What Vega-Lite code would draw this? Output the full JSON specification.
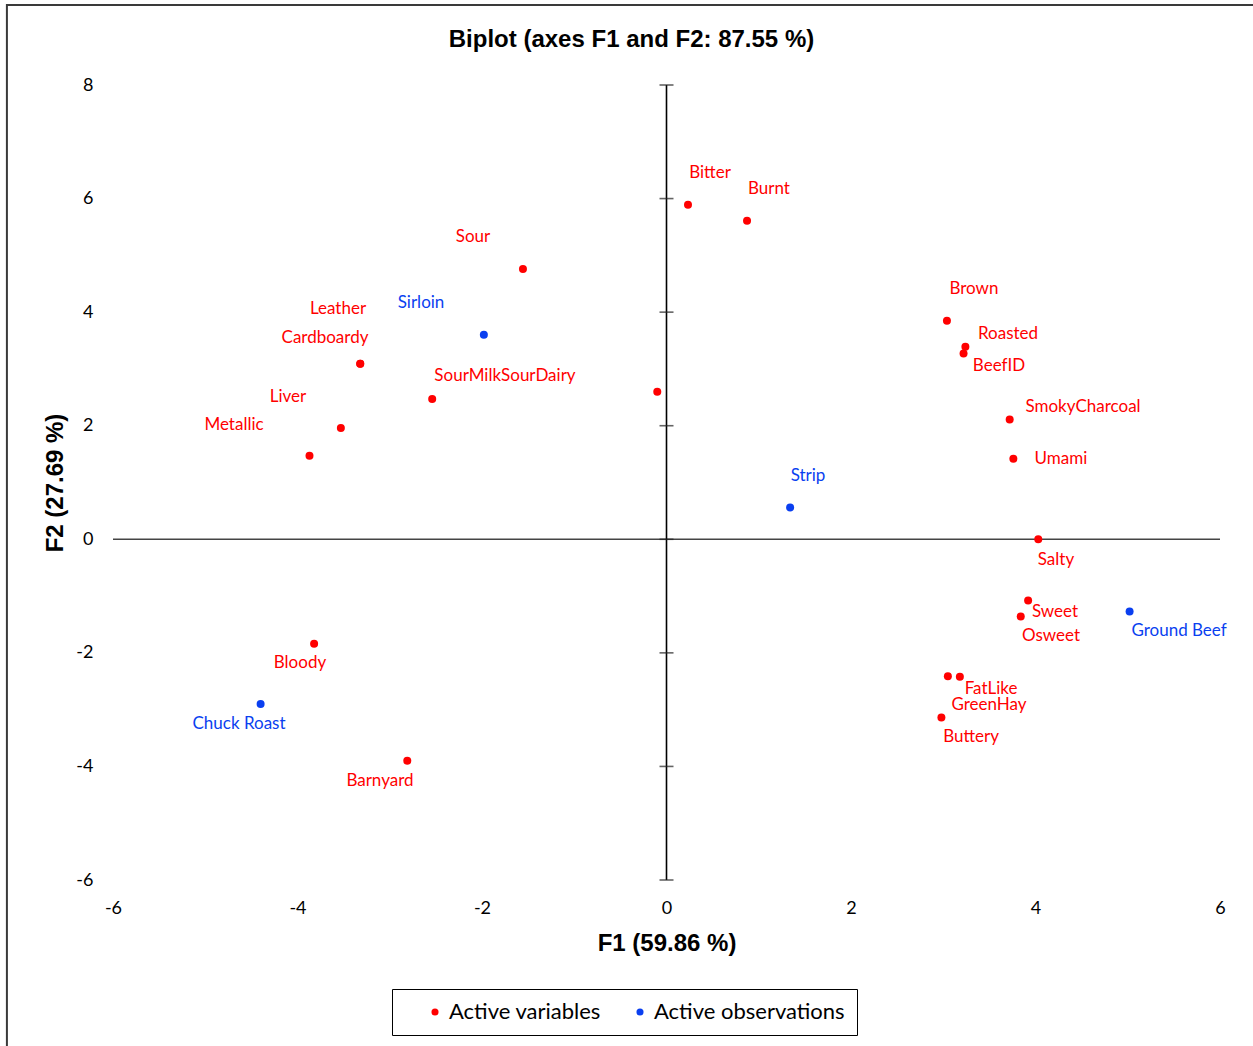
{
  "$schema": "https://vega.github.io/schema/vega-lite/v6.json",
  "width": 1107,
  "height": 795,
  "autosize": {"type": "none"},
  "padding": {"left": 113, "top": 85, "right": 33, "bottom": 166},
  "background": "white",
  "config": {"view": {"stroke": null}, "font": "Lato"},
  "title": {"text": "Biplot (axes F1 and F2: 87.55 %)", "font": "Liberation Sans", "fontSize": 24, "fontWeight": "bold", "color": "black", "offset": 0, "dx": -35, "dy": 48, "anchor": "middle"},
  "datasets": {
    "pts": [
      {"name": "Bitter", "fx": 0.233, "fy": 5.89, "lx": 0.472, "ly": 6.45, "group": "Active variables"},
      {"name": "Burnt", "fx": 0.873, "fy": 5.61, "lx": 1.111, "ly": 6.17, "group": "Active variables"},
      {"name": "Sour", "fx": -1.556, "fy": 4.76, "lx": -2.098, "ly": 5.32, "group": "Active variables"},
      {"name": "Leather", "fx": -3.32, "fy": 3.09, "lx": -3.561, "ly": 4.06, "group": "Active variables"},
      {"name": "Cardboardy", "fx": -3.32, "fy": 3.09, "lx": -3.702, "ly": 3.55, "group": "Active variables"},
      {"name": "SourMilkSourDairy", "fx": -2.54, "fy": 2.47, "lx": -1.751, "ly": 2.88, "group": "Active variables"},
      {"name": "", "fx": -0.10, "fy": 2.60, "lx": null, "ly": null, "group": "Active variables"},
      {"name": "Liver", "fx": -3.53, "fy": 1.96, "lx": -4.103, "ly": 2.51, "group": "Active variables"},
      {"name": "Metallic", "fx": -3.87, "fy": 1.47, "lx": -4.688, "ly": 2.02, "group": "Active variables"},
      {"name": "Brown", "fx": 3.04, "fy": 3.85, "lx": 3.333, "ly": 4.40, "group": "Active variables"},
      {"name": "Roasted", "fx": 3.24, "fy": 3.39, "lx": 3.702, "ly": 3.62, "group": "Active variables"},
      {"name": "BeefID", "fx": 3.22, "fy": 3.27, "lx": 3.604, "ly": 3.06, "group": "Active variables"},
      {"name": "SmokyCharcoal", "fx": 3.72, "fy": 2.11, "lx": 4.515, "ly": 2.33, "group": "Active variables"},
      {"name": "Umami", "fx": 3.76, "fy": 1.42, "lx": 4.276, "ly": 1.42, "group": "Active variables"},
      {"name": "Salty", "fx": 4.03, "fy": 0.0, "lx": 4.222, "ly": -0.36, "group": "Active variables"},
      {"name": "Sweet", "fx": 3.92, "fy": -1.08, "lx": 4.211, "ly": -1.28, "group": "Active variables"},
      {"name": "Osweet", "fx": 3.84, "fy": -1.36, "lx": 4.168, "ly": -1.70, "group": "Active variables"},
      {"name": "FatLike", "fx": 3.18, "fy": -2.42, "lx": 3.518, "ly": -2.63, "group": "Active variables"},
      {"name": "GreenHay", "fx": 3.05, "fy": -2.41, "lx": 3.496, "ly": -2.91, "group": "Active variables"},
      {"name": "Buttery", "fx": 2.98, "fy": -3.14, "lx": 3.301, "ly": -3.49, "group": "Active variables"},
      {"name": "Bloody", "fx": -3.82, "fy": -1.84, "lx": -3.973, "ly": -2.17, "group": "Active variables"},
      {"name": "Barnyard", "fx": -2.81, "fy": -3.90, "lx": -3.106, "ly": -4.25, "group": "Active variables"},
      {"name": "Sirloin", "fx": -1.98, "fy": 3.60, "lx": -2.661, "ly": 4.16, "group": "Active observations"},
      {"name": "Strip", "fx": 1.34, "fy": 0.56, "lx": 1.534, "ly": 1.12, "group": "Active observations"},
      {"name": "Ground Beef", "fx": 5.02, "fy": -1.27, "lx": 5.556, "ly": -1.61, "group": "Active observations"},
      {"name": "Chuck Roast", "fx": -4.40, "fy": -2.90, "lx": -4.634, "ly": -3.25, "group": "Active observations"}
    ],
    "yticks": [{"v": -6}, {"v": -4}, {"v": -2}, {"v": 0}, {"v": 2}, {"v": 4}, {"v": 6}, {"v": 8}]
  },
  "layer": [
    {
      "data": {"values": [{}]},
      "mark": {"type": "rect", "fillOpacity": 0, "stroke": "#3a3a3a", "strokeWidth": 2, "clip": false},
      "encoding": {
        "x": {"datum": -7.15, "type": "quantitative", "scale": {"domain": [-6, 6], "nice": false, "zero": false}},
        "x2": {"datum": 8},
        "y": {"datum": 9.41, "type": "quantitative", "scale": {"domain": [-6, 8], "nice": false, "zero": false}},
        "y2": {"datum": -10}
      }
    },
    {
      "data": {"values": [{}]},
      "mark": {"type": "rule", "stroke": "#444444", "strokeWidth": 1.6},
      "encoding": {"y": {"datum": 0, "type": "quantitative"}}
    },
    {
      "data": {"values": [{}]},
      "mark": {"type": "rule", "stroke": "#000000", "strokeWidth": 1.6},
      "encoding": {"x": {"datum": 0, "type": "quantitative"}}
    },
    {
      "data": {"name": "yticks"},
      "mark": {"type": "tick", "orient": "horizontal", "size": 14, "thickness": 1.6, "color": "#222222"},
      "encoding": {
        "x": {"datum": 0, "type": "quantitative"},
        "y": {"field": "v", "type": "quantitative"}
      }
    },
    {
      "data": {"name": "pts"},
      "mark": {"type": "circle", "size": 64, "opacity": 1},
      "encoding": {
        "x": {"field": "fx", "type": "quantitative", "scale": {"domain": [-6, 6], "nice": false, "zero": false},
          "axis": {"title": "F1 (59.86 %)", "values": [-6, -4, -2, 0, 2, 4, 6], "labelExpr": "'' + datum.value", "labelFlush": false, "domain": false, "ticks": false, "tickSize": 0, "grid": false, "labelFont": "Lato", "labelFontSize": 18, "labelColor": "black", "labelPadding": 19, "titleFont": "Liberation Sans", "titleFontSize": 24, "titleFontWeight": "bold", "titleColor": "black", "titlePadding": 14}},
        "y": {"field": "fy", "type": "quantitative", "scale": {"domain": [-6, 8], "nice": false, "zero": false},
          "axis": {"title": "F2 (27.69 %)", "values": [-6, -4, -2, 0, 2, 4, 6, 8], "labelExpr": "'' + datum.value", "labelFlush": false, "domain": false, "ticks": false, "tickSize": 0, "grid": false, "labelFont": "Lato", "labelFontSize": 18, "labelColor": "black", "labelPadding": 20, "titleFont": "Liberation Sans", "titleFontSize": 24, "titleFontWeight": "bold", "titleColor": "black", "titlePadding": 8}},
        "color": {"field": "group", "type": "nominal",
          "scale": {"domain": ["Active variables", "Active observations"], "range": ["#ff0000", "#0a3ff0"]},
          "legend": {"title": null, "orient": "none", "legendX": 279, "legendY": 904, "direction": "horizontal", "strokeColor": "black", "padding": 12, "symbolType": "circle", "symbolSize": 50, "symbolOffset": 20, "labelFont": "Lato", "labelFontSize": 22, "labelColor": "black", "labelOffset": 3, "labelLimit": 400, "columnPadding": 8}}
      }
    },
    {
      "data": {"name": "pts"},
      "mark": {"type": "text", "font": "Lato", "fontSize": 17, "align": "center", "baseline": "middle"},
      "encoding": {
        "x": {"field": "lx", "type": "quantitative"},
        "y": {"field": "ly", "type": "quantitative"},
        "text": {"field": "name"},
        "color": {"field": "group", "type": "nominal", "legend": null}
      }
    }
  ]
}
